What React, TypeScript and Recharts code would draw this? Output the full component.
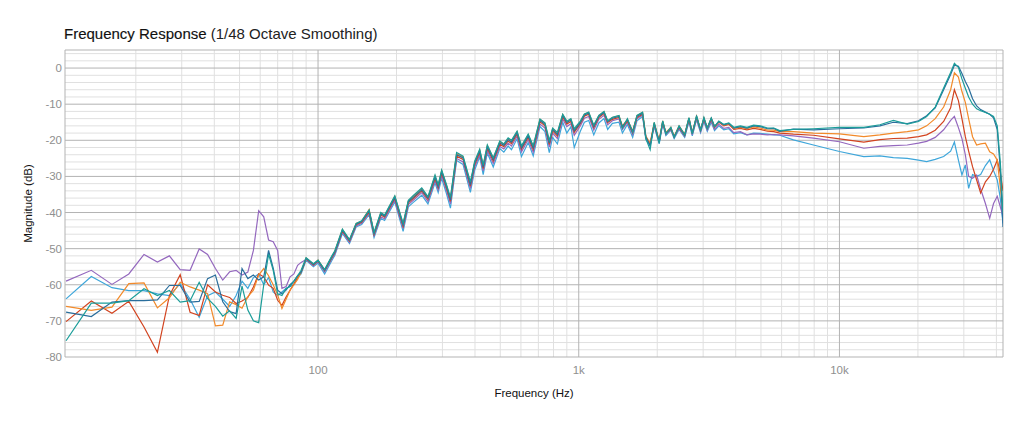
import { LineChart, Line, XAxis, YAxis, ReferenceLine } from 'recharts';

// frequency points (Hz): FFT bins at the low end, then log-ish spacing
const freqLow = [10.8, 13.5, 16.2, 18.8, 21.5, 24.2, 26.9, 29.6, 32.3, 35.0,
    37.7, 40.4, 43.1, 45.8, 48.5, 51.1, 53.8, 56.5, 59.2, 61.9,
    64.6, 67.3, 70.0, 72.7, 75.4, 78.1, 80.8, 83.5, 86.1];
const freqMid = [90, 96, 100, 106, 113, 116, 124, 132, 140, 147,
    157, 164, 174, 180, 197, 212, 222, 232, 250, 264,
    281, 289, 298, 311, 322, 340, 360, 384, 399, 417,
    430, 446, 470, 498, 516, 536, 552, 580, 603, 640,
    669, 710, 742, 771, 794, 828, 868, 900, 933, 961,
    1014, 1051, 1092, 1142, 1194, 1250, 1291, 1346, 1427, 1471,
    1537, 1610, 1672, 1757, 1809, 1879, 1947, 2035, 2099, 2160,
    2256, 2323, 2426, 2549, 2647, 2726, 2831, 2933, 3021, 3112,
    3223, 3318, 3446, 3602, 3764, 3933, 4170, 4419, 4684, 4966,
    5300, 5600];
const freqHigh = [5900, 6660, 7950, 10000, 12400, 14300, 16100, 18200, 20100, 21600,
    23300, 25100, 26700, 27600, 28600, 29500, 30400, 31300, 32400, 33600,
    34800, 36300, 37700, 39000, 40300, 41400, 42400];

// magnitude (dB) per measurement
const tealLow = [-75.5, -65.1, -65.1, -64.4, -61.1, -63.0, -61.6, -64.8, -64.4, -59.3,
    -63.8, -66.0, -68.7, -67.2, -69.3, -60.4, -67.0, -70.0, -70.5, -60.0,
    -51.5, -56.0, -62.5, -63.0, -61.0, -60.5, -59.0, -57.5, -56.0];
const tealMid = [-52.5, -54.2, -53.2, -55.8, -52.0, -50.6, -44.6, -47.5, -43.0, -42.3,
    -39.3, -45.5, -40.0, -40.7, -35.4, -43.0, -36.6, -35.3, -33.2, -35.6,
    -29.6, -32.3, -28.2, -32.3, -35.8, -23.4, -24.4, -31.5, -25.8, -22.5,
    -26.8, -21.3, -24.8, -20.2, -21.0, -19.3, -20.0, -17.5, -21.5, -18.3,
    -21.5, -14.1, -15.2, -20.0, -16.6, -17.8, -12.8, -14.7, -14.0, -16.8,
    -14.7, -12.7, -12.2, -15.8, -13.1, -12.0, -14.6, -13.6, -13.1, -16.6,
    -14.0, -17.8, -13.1, -12.2, -19.5, -22.6, -15.0, -20.8, -14.6, -18.3,
    -16.4, -19.2, -16.0, -18.6, -13.7, -18.2, -13.2, -17.2, -13.7, -16.7,
    -13.8, -16.2, -14.7, -15.6, -15.2, -16.4, -16.0, -16.4, -15.8, -16.0,
    -16.6, -16.6];
const tealHigh = [-17.3, -17.0, -16.8, -16.4, -16.4, -15.7, -14.5, -15.5, -14.8, -13.4,
    -10.8, -5.5, -1.2, 1.3, 0.2, -3.0, -5.6, -8.0, -10.0, -11.3,
    -11.8, -12.3, -12.8, -13.4, -16.0, -26.0, -40.0];

const darkBlueLow = [-67.6, -68.8, -64.8, -64.4, -64.4, -64.2, -60.2, -60.2, -64.8, -64.6,
    -58.3, -57.3, -64.7, -67.4, -68.0, -55.5, -58.3, -57.3, -58.7, -57.8,
    -50.5, -55.4, -61.5, -62.5, -61.5, -60.0, -59.0, -57.5, -56.5];
const darkBlueMid = [-52.7, -54.4, -53.3, -56.0, -52.3, -50.9, -44.9, -47.7, -43.2, -42.5,
    -39.5, -45.8, -40.4, -41.0, -35.8, -43.5, -37.0, -35.8, -33.7, -36.0,
    -30.2, -32.8, -28.7, -32.8, -36.5, -24.0, -24.9, -32.3, -26.3, -23.0,
    -27.4, -21.8, -25.3, -20.7, -21.4, -19.8, -20.5, -17.9, -22.1, -18.8,
    -22.1, -14.5, -15.6, -20.7, -17.0, -18.4, -13.1, -15.1, -14.4, -17.4,
    -15.1, -13.0, -12.5, -16.2, -13.4, -12.3, -14.8, -13.9, -13.4, -16.2,
    -14.3, -17.6, -13.4, -12.5, -19.0, -21.5, -15.3, -20.3, -14.8, -18.0,
    -16.6, -19.0, -16.2, -18.5, -13.9, -18.0, -13.4, -17.1, -13.9, -16.6,
    -13.9, -16.2, -14.8, -15.7, -15.3, -16.6, -16.2, -16.6, -16.0, -16.2,
    -16.8, -16.7];
const darkBlueHigh = [-17.5, -16.9, -17.1, -16.8, -16.6, -16.0, -15.0, -15.4, -14.6, -13.2,
    -11.0, -6.0, -1.8, 0.8, 0.5, -1.5, -3.7, -5.5, -8.5, -10.5,
    -11.5, -12.2, -12.8, -13.8, -17.0, -28.0, -44.0];

const orangeLow = [-66.0, -67.1, -66.2, -59.7, -59.5, -66.4, -63.6, -59.3, -60.6, -61.5,
    -62.5, -71.4, -71.2, -64.7, -65.5, -66.5, -63.3, -61.5, -57.3, -55.5,
    -57.5, -60.0, -62.8, -66.6, -64.0, -61.5, -60.0, -58.5, -56.5];
const orangeMid = [-52.6, -54.3, -53.2, -55.9, -52.2, -50.7, -44.7, -47.6, -43.0, -42.4,
    -39.2, -45.6, -40.2, -40.8, -35.5, -43.2, -36.8, -35.5, -33.4, -35.8,
    -29.9, -32.5, -28.4, -32.5, -36.2, -23.7, -24.6, -31.9, -26.0, -22.7,
    -27.0, -21.5, -25.0, -20.4, -21.1, -19.5, -20.2, -17.6, -21.8, -18.5,
    -21.8, -14.2, -15.3, -20.3, -16.8, -18.1, -12.9, -14.9, -14.2, -17.1,
    -14.9, -12.8, -12.3, -16.0, -13.2, -12.1, -14.7, -13.7, -13.2, -16.0,
    -14.2, -17.4, -13.2, -12.3, -18.8, -20.8, -15.1, -20.0, -14.6, -17.8,
    -16.4, -18.8, -16.0, -18.3, -13.8, -17.8, -13.3, -17.0, -13.8, -16.5,
    -13.9, -16.2, -14.8, -15.8, -15.4, -16.7, -16.4, -16.8, -16.3, -16.6,
    -17.2, -17.2];
const orangeHigh = [-17.6, -17.6, -18.0, -18.2, -19.0, -18.5, -18.0, -17.6, -17.1, -16.0,
    -14.0, -10.8, -6.0, -1.3, -2.5, -6.5, -9.5, -14.0, -19.0, -21.3,
    -21.0, -20.8, -23.2, -23.8, -25.5, -33.0, -40.0];

const redLow = [-70.2, -64.5, -67.9, -64.6, -71.7, -78.7, -63.0, -57.2, -67.6, -68.5,
    -60.0, -62.0, -62.9, -63.5, -65.2, -64.5, -63.5, -60.6, -57.0, -57.8,
    -60.1, -61.0, -64.3, -65.7, -63.4, -61.5, -59.7, -58.0, -56.5];
const redMid = [-52.8, -54.5, -53.4, -56.1, -52.5, -51.1, -45.1, -47.9, -43.4, -42.7,
    -39.8, -46.0, -40.7, -41.3, -36.1, -43.8, -37.3, -36.1, -34.0, -36.3,
    -30.6, -33.1, -29.1, -33.2, -36.9, -24.4, -25.3, -32.7, -26.7, -23.4,
    -27.8, -22.2, -25.7, -21.1, -21.8, -20.2, -20.9, -18.3, -22.5, -19.2,
    -22.5, -14.9, -16.0, -21.1, -17.4, -18.8, -13.5, -15.5, -14.8, -17.8,
    -15.4, -13.3, -12.8, -16.5, -13.7, -12.6, -15.1, -14.2, -13.7, -16.5,
    -14.6, -17.9, -13.7, -12.8, -19.2, -21.0, -15.5, -20.3, -15.0, -18.1,
    -16.8, -19.0, -16.4, -18.6, -14.1, -18.1, -13.6, -17.2, -14.1, -16.7,
    -14.1, -16.4, -15.0, -16.0, -15.6, -17.0, -16.7, -17.1, -16.7, -17.0,
    -17.5, -17.6];
const redHigh = [-18.0, -18.3, -18.6, -19.6, -20.5, -19.8, -19.5, -19.4, -19.0, -18.5,
    -17.2, -14.8, -11.0, -6.0, -9.0, -14.0, -19.0, -23.0, -27.3, -31.0,
    -34.6, -31.5, -30.0, -28.0, -25.5, -29.0, -34.0];

const purpleLow = [-59.0, -56.0, -59.9, -57.0, -51.6, -53.7, -52.0, -55.8, -56.0, -50.1,
    -51.6, -55.5, -58.7, -56.4, -56.0, -57.3, -56.5, -50.5, -39.5, -41.2,
    -47.6, -48.1, -50.5, -61.0, -60.5, -57.8, -57.0, -54.6, -53.8];
const purpleMid = [-53.0, -54.7, -53.6, -56.4, -52.8, -51.4, -45.4, -48.2, -43.7, -43.0,
    -40.2, -46.4, -41.2, -41.7, -36.6, -44.4, -37.8, -36.6, -34.5, -36.9,
    -31.2, -33.7, -29.7, -33.9, -37.6, -25.0, -26.0, -33.4, -27.4, -24.0,
    -28.5, -22.8, -26.4, -21.7, -22.4, -20.8, -21.6, -18.9, -23.2, -19.8,
    -23.3, -15.5, -16.6, -21.8, -18.0, -19.5, -14.1, -16.2, -15.4, -18.6,
    -16.0, -13.9, -13.4, -17.2, -14.2, -13.1, -15.7, -14.6, -14.1, -17.0,
    -15.0, -18.4, -14.0, -13.0, -19.4, -21.2, -15.8, -20.6, -15.2, -18.4,
    -17.0, -19.2, -16.7, -18.9, -14.4, -18.5, -14.0, -17.6, -14.5, -17.2,
    -14.6, -17.0, -15.6, -16.7, -16.4, -17.9, -17.6, -18.5, -18.2, -18.3,
    -18.5, -18.4];
const purpleHigh = [-18.5, -18.8, -19.4, -20.4, -22.2, -21.7, -21.5, -21.3, -20.8, -20.3,
    -19.2, -17.1, -14.5, -13.4, -16.5, -19.5, -24.0, -30.0, -30.5, -29.6,
    -33.5, -37.5, -41.6, -37.5, -35.5, -38.4, -41.0];

const lightBlueLow = [-63.9, -57.7, -60.8, -61.6, -61.6, -62.5, -63.0, -59.7, -64.0, -69.0,
    -63.0, -62.0, -64.0, -66.0, -63.0, -59.0, -61.0, -58.0, -57.0, -60.0,
    -58.0, -62.0, -63.0, -62.0, -61.0, -60.5, -60.0, -58.0, -57.0];
const lightBlueMid = [-53.2, -55.0, -54.0, -57.0, -53.3, -51.8, -45.8, -48.6, -44.0, -43.3,
    -40.6, -46.9, -41.6, -42.2, -37.1, -45.2, -38.4, -37.2, -35.2, -37.6,
    -31.8, -34.5, -30.5, -34.8, -38.8, -25.6, -26.7, -34.4, -28.2, -24.6,
    -29.5, -23.5, -27.4, -22.3, -23.3, -21.6, -22.6, -19.6, -24.5, -20.6,
    -24.3, -16.2, -17.6, -23.4, -19.2, -21.0, -15.0, -18.0, -16.2, -22.0,
    -17.5, -15.0, -14.5, -18.5, -15.2, -14.0, -17.0, -15.3, -15.0, -18.0,
    -15.6, -19.2, -14.6, -13.4, -19.8, -21.5, -16.2, -21.0, -15.6, -18.7,
    -17.2, -19.5, -17.0, -19.2, -14.8, -18.8, -14.3, -17.9, -14.8, -17.5,
    -15.0, -17.3, -16.0, -17.1, -16.8, -18.2, -17.9, -18.5, -18.0, -18.1,
    -18.3, -18.5];
const lightBlueHigh = [-18.6, -19.9, -21.3, -23.1, -24.5, -24.3, -24.8, -25.0, -25.5, -25.9,
    -25.3, -24.5, -23.0, -20.5, -25.5, -29.6, -26.8, -33.3, -29.5, -30.0,
    -29.5, -27.0, -25.4, -28.4, -31.0, -36.0, -43.0];

// axes and grid
const xDomain = [10.7, 42400];
const yDomain = [-80, 5];
const xTicks = [100, 1000, 10000];
const yTicks = [0, -10, -20, -30, -40, -50, -60, -70, -80];
const xMinor = [20, 30, 40, 50, 60, 70, 80, 90, 200, 300, 400, 500, 600, 700, 800, 900,
    2000, 3000, 4000, 5000, 6000, 7000, 8000, 9000, 20000, 30000, 40000];
const yMinor = [4, 2, -2, -4, -6, -8, -12, -14, -16, -18, -22, -24, -26, -28,
    -32, -34, -36, -38, -42, -44, -46, -48, -52, -54, -56, -58,
    -62, -64, -66, -68, -72, -74, -76, -78];

const freqHz = [...freqLow, ...freqMid, ...freqHigh];

const series = [
    { key: 'lightBlue', color: '#3ea6da', values: [...lightBlueLow, ...lightBlueMid, ...lightBlueHigh] },
    { key: 'purple', color: '#9468be', values: [...purpleLow, ...purpleMid, ...purpleHigh] },
    { key: 'red', color: '#d2431f', values: [...redLow, ...redMid, ...redHigh] },
    { key: 'orange', color: '#f28a2a', values: [...orangeLow, ...orangeMid, ...orangeHigh] },
    { key: 'darkBlue', color: '#2a6e9c', values: [...darkBlueLow, ...darkBlueMid, ...darkBlueHigh] },
    { key: 'teal', color: '#1b9d99', values: [...tealLow, ...tealMid, ...tealHigh] },
];

const data = freqHz.map((f, i) => {
    const row: Record<string, number> = { f };
    series.forEach((s) => { row[s.key] = s.values[i]; });
    return row;
});

const formatFreq = (v: number): string => (v >= 1000 ? `${v / 1000}k` : `${v}`);

const MAJOR = '#b3b3b3';
const MINOR = '#e0e0e0';
const TICK = { fill: '#8f8f8f', fontSize: 11.5 };

export default function App () {
    return (
        <div style={{ position: 'absolute', left: 0, top: 0, width: 1024, height: 427, background: '#fff', fontFamily: '"Liberation Sans", Arial, sans-serif' }}>
            <svg width={1024} height={50} style={{ position: 'absolute', left: 0, top: 0 }}>
                <text x={64} y={39} fontSize={15} fill="#111">
                    <tspan stroke="#111" strokeWidth={0.15}>Frequency Response</tspan>
                    <tspan fill="#222"> (1/48 Octave Smoothing)</tspan>
                </text>
            </svg>
            <LineChart width={1024} height={427} data={data} margin={{ top: 50, right: 21, bottom: 25, left: 20 }}>
                {xMinor.map((v) => <ReferenceLine key={`xm${v}`} x={v} stroke={MINOR} strokeWidth={1} />)}
                {yMinor.map((v) => <ReferenceLine key={`ym${v}`} y={v} stroke={MINOR} strokeWidth={1} />)}
                {xTicks.map((v) => <ReferenceLine key={`xM${v}`} x={v} stroke={MAJOR} strokeWidth={1} />)}
                {yTicks.map((v) => <ReferenceLine key={`yM${v}`} y={v} stroke={MAJOR} strokeWidth={1} />)}
                <ReferenceLine y={yDomain[1]} stroke={MAJOR} />
                <ReferenceLine x={xDomain[0]} stroke={MAJOR} />
                <ReferenceLine x={xDomain[1]} stroke={MAJOR} />
                <XAxis
                    dataKey="f"
                    type="number"
                    scale="log"
                    domain={xDomain}
                    allowDataOverflow
                    ticks={xTicks}
                    tickFormatter={formatFreq}
                    axisLine={false}
                    tickLine={false}
                    tickSize={0}
                    tickMargin={9}
                    tick={TICK}
                    height={45}
                    label={{ value: 'Frequency (Hz)', position: 'insideBottom', offset: 5, fill: '#111', fontSize: 11.5 }}
                />
                <YAxis
                    type="number"
                    domain={yDomain}
                    allowDataOverflow
                    ticks={yTicks}
                    axisLine={false}
                    tickLine={false}
                    tickSize={0}
                    tickMargin={3}
                    tick={TICK}
                    width={45}
                    label={{ value: 'Magnitude (dB)', angle: -90, position: 'insideLeft', offset: 8, fill: '#111', fontSize: 11.5, style: { textAnchor: 'middle' } }}
                />
                {series.map((s) => (
                    <Line
                        key={s.key}
                        dataKey={s.key}
                        type="linear"
                        stroke={s.color}
                        strokeWidth={1.2}
                        dot={false}
                        activeDot={false}
                        isAnimationActive={false}
                    />
                ))}
            </LineChart>
        </div>
    );
}
